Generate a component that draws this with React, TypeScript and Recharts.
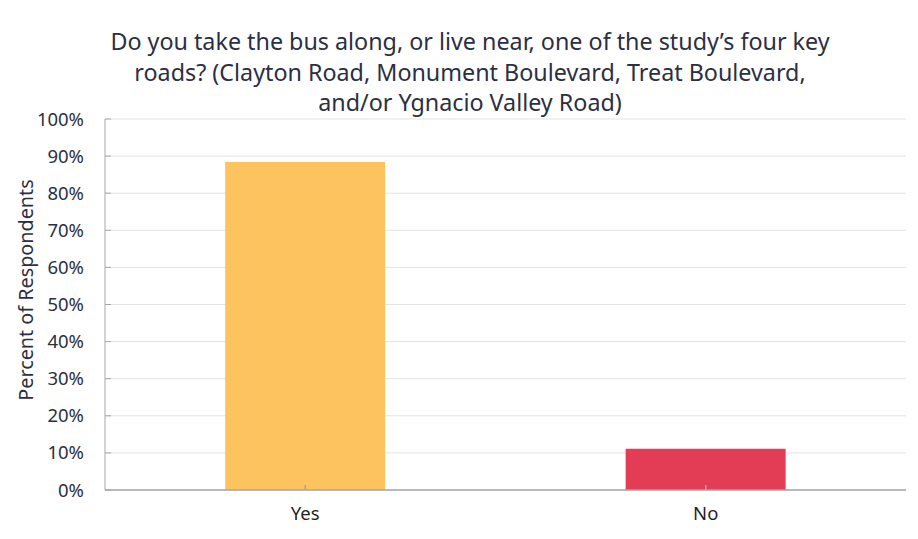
import { BarChart, Bar, XAxis, YAxis, CartesianGrid, Cell } from "recharts";

const answers = ["Yes", "No"];
const shares = [88.4, 11.1];
const barColors = ["#FDC35F", "#E33D56"];
const yTicks = [0, 10, 20, 30, 40, 50, 60, 70, 80, 90, 100];
const titleLines = [
  "Do you take the bus along, or live near, one of the study\u2019s four key",
  "roads? (Clayton Road, Monument Boulevard, Treat Boulevard,",
  "and/or Ygnacio Valley Road)",
];

const data = answers.map((a, i) => ({ answer: a, share: shares[i] }));

const font = "'Noto Sans', sans-serif";
const textColor = "#2b2f42";

export default function App() {
  return (
    <div style={{ position: "relative", width: 918, height: 539, margin: -8, overflow: "hidden", background: "#fff", fontFamily: font }}>
      <div style={{ position: "absolute", left: 6, top: 5, width: 940, height: 560, border: "1px solid #d4d4d4" }} />
      <div style={{ position: "absolute", left: 0, top: 26, width: 940, textAlign: "center", fontSize: 23.3, lineHeight: "30.5px", color: textColor }}>
        {titleLines.map((l) => (
          <div key={l}>{l}</div>
        ))}
      </div>
      <div style={{ position: "absolute", left: 0, top: 0 }}>
        <BarChart width={918} height={539} data={data} margin={{ top: 119, right: 12, bottom: 19, left: 45 }} barCategoryGap="30%">
          <CartesianGrid vertical={false} stroke="#e3e3e3" />
          <XAxis
            dataKey="answer"
            height={30}
            stroke="#a6a6a6"
            strokeWidth={1.5}
            tickSize={-5}
            tickMargin={22}
            tick={{ fill: "#1f1f1f", fontSize: 18.5, fontFamily: font }}
          />
          <YAxis
            width={60}
            domain={[0, 100]}
            ticks={yTicks}
            interval={0}
            tickFormatter={(v: number) => `${v}%`}
            stroke="#a6a6a6"
            tickSize={-6}
            tickMargin={27}
            tick={{ fill: textColor, fontSize: 18.5, fontFamily: font }}
          />
          <text
            x={25}
            y={290}
            transform="rotate(-90 25 290)"
            textAnchor="middle"
            dominantBaseline="central"
            fill={textColor}
            fontSize={19.8}
            fontFamily={font}
          >
            Percent of Respondents
          </text>
          <Bar dataKey="share" isAnimationActive={false}>
            {data.map((d, i) => (
              <Cell key={d.answer} fill={barColors[i]} />
            ))}
          </Bar>
        </BarChart>
      </div>
    </div>
  );
}
